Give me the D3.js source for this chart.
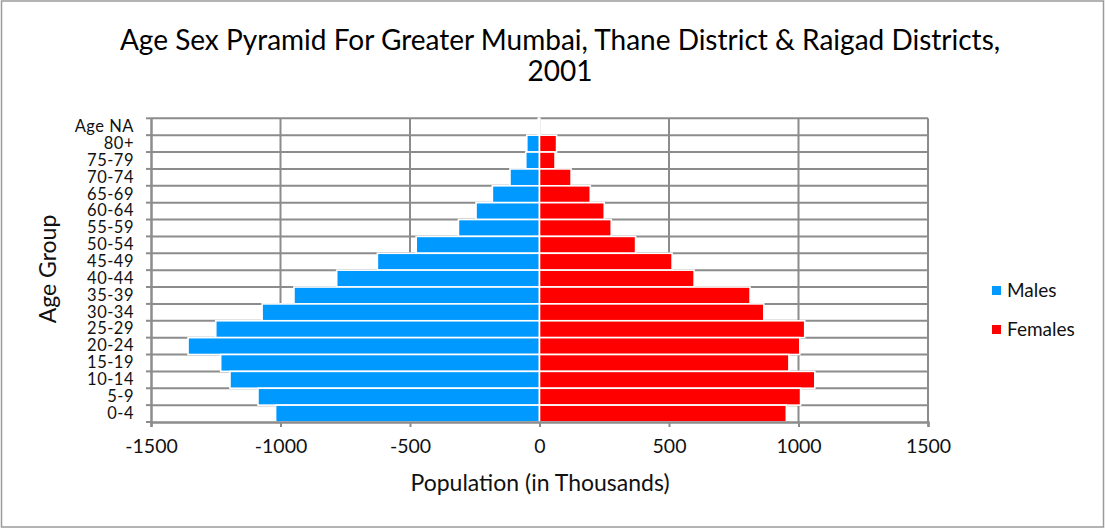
<!DOCTYPE html>
<html>
<head>
<meta charset="utf-8">
<script src="https://cdn.jsdelivr.net/npm/d3@7"></script>
<style>
  html, body { margin: 0; padding: 0; background: #fff; }
  svg { display: block; font-family: Lato, "Open Sans", sans-serif; }
</style>
</head>
<body>
<svg id="chart" width="1106" height="529"></svg>
<script>
const ageGroups = ["Age NA","80+","75-79","70-74","65-69","60-64","55-59","50-54","45-49","40-44","35-39","30-34","25-29","20-24","15-19","10-14","5-9","0-4"];
const males   = [-5, -49, -53, -114, -182, -245, -313, -476, -626, -783, -948, -1071, -1250, -1357, -1231, -1195, -1087, -1019];
const females = [1, 66, 60, 122, 196, 250, 277, 371, 512, 597, 813, 866, 1024, 1005, 963, 1063, 1008, 953];
const xTicks = [-1500, -1000, -500, 0, 500, 1000, 1500];
const seriesNames = ["Males", "Females"];
const seriesColors = ["#0099FF", "#FF0000"];

const svg = d3.select("#chart");
const W = 1106, H = 529;
const plot = { left: 151, right: 928, top: 118.3, bottom: 422 };

svg.append("rect").attr("x", 1.5).attr("y", 1).attr("width", W - 4).attr("height", H - 3)
  .attr("fill", "#fff").attr("stroke", "#9a9a9a").attr("stroke-width", 1.5);

const x = d3.scaleLinear().domain([-1500, 1500]).range([plot.left, plot.right]);
const y = d3.scaleBand().domain(ageGroups).range([plot.top, plot.bottom]).padding(0);

const gridColor = "#8c8c8c";
svg.append("g").selectAll("line").data(xTicks.slice(1)).join("line")
  .attr("x1", d => x(d)).attr("x2", d => x(d))
  .attr("y1", plot.top).attr("y2", plot.bottom)
  .attr("stroke", gridColor).attr("stroke-width", 2);
const bounds = ageGroups.map(d => y(d));
svg.append("g").selectAll("line").data(bounds).join("line")
  .attr("x1", plot.left).attr("x2", plot.right)
  .attr("y1", d => d).attr("y2", d => d)
  .attr("stroke", gridColor).attr("stroke-width", 2);

const rows = ageGroups.map((g, i) => ({ g, m: males[i], f: females[i] }));
const barG = svg.append("g");
barG.selectAll("rect.m").data(rows).join("rect").attr("class", "m")
  .attr("x", d => x(Math.min(0, d.m))).attr("width", d => Math.abs(x(d.m) - x(0)))
  .attr("y", d => y(d.g)).attr("height", y.bandwidth())
  .attr("fill", seriesColors[0]).attr("stroke", "#fff").attr("stroke-width", 1.6);
barG.selectAll("rect.f").data(rows).join("rect").attr("class", "f")
  .attr("x", d => x(0)).attr("width", d => Math.abs(x(d.f) - x(0)))
  .attr("y", d => y(d.g)).attr("height", y.bandwidth())
  .attr("fill", seriesColors[1]).attr("stroke", "#fff").attr("stroke-width", 1.6);

const xAxis = svg.append("g").attr("transform", `translate(0,${plot.bottom})`)
  .call(d3.axisBottom(x).tickValues(xTicks).tickSize(5).tickPadding(12).tickFormat(d => String(d)));
xAxis.select(".domain").attr("stroke", gridColor).attr("stroke-width", 2.5);
xAxis.selectAll(".tick line").attr("stroke", gridColor).attr("stroke-width", 2);
xAxis.selectAll(".tick text").attr("font-size", 19.5).attr("fill", "#111").attr("font-family", "Lato, sans-serif");

const yAxis = svg.append("g").attr("transform", `translate(${plot.left},0)`)
  .call(d3.axisLeft(y).tickSize(0).tickPadding(17));
yAxis.select(".domain").attr("stroke", gridColor).attr("stroke-width", 2.5);
yAxis.selectAll(".tick text").attr("font-size", 16.5).attr("letter-spacing", 0.5)
  .attr("fill", "#111").attr("font-family", "Lato, sans-serif");
svg.append("g").selectAll("line").data(bounds.concat([plot.bottom])).join("line")
  .attr("x1", plot.left - 5).attr("x2", plot.left)
  .attr("y1", d => d).attr("y2", d => d)
  .attr("stroke", gridColor).attr("stroke-width", 2);

svg.append("text").attr("x", 560).attr("y", 50).attr("text-anchor", "middle")
  .attr("font-size", 28).attr("fill", "#000")
  .text("Age Sex Pyramid For Greater Mumbai, Thane District & Raigad Districts,");
svg.append("text").attr("x", 560).attr("y", 81).attr("text-anchor", "middle")
  .attr("font-size", 28).attr("fill", "#000").text("2001");
svg.append("text").attr("x", 540).attr("y", 491).attr("text-anchor", "middle")
  .attr("font-size", 23).attr("fill", "#111").text("Population (in Thousands)");
svg.append("text").attr("transform", "translate(56,269) rotate(-90)").attr("text-anchor", "middle")
  .attr("font-size", 23).attr("fill", "#111").text("Age Group");

const leg = svg.append("g");
seriesNames.forEach((n, i) => {
  const ly = 290 + i * 39;
  leg.append("rect").attr("x", 992).attr("y", ly - 4).attr("width", 9).attr("height", 9).attr("fill", seriesColors[i]);
  leg.append("text").attr("x", 1007).attr("y", ly + 7).attr("font-size", 19).attr("fill", "#111").text(n);
});
</script>
</body>
</html>
